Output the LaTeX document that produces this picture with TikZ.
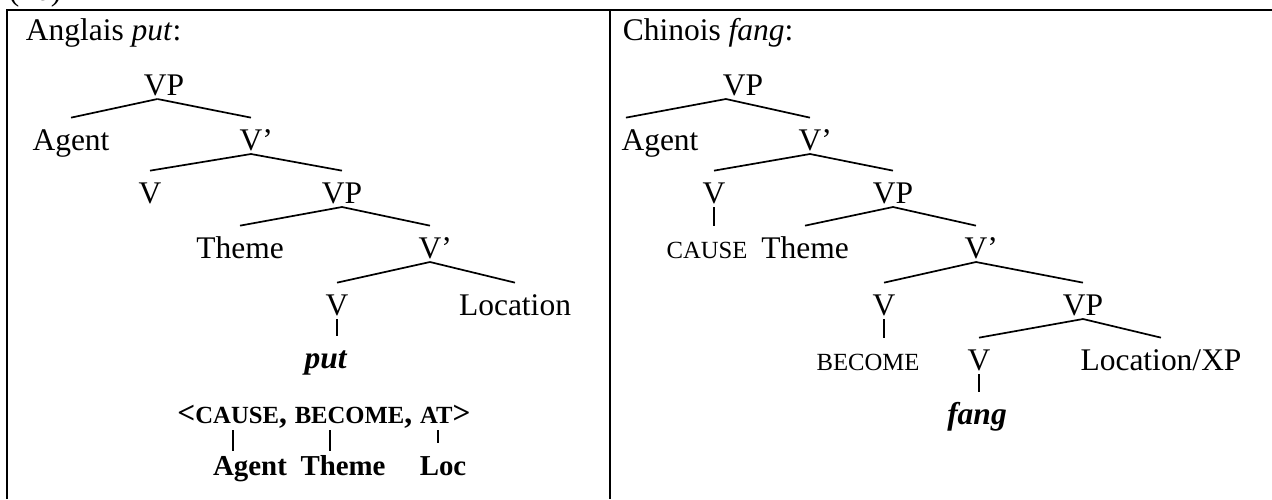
\documentclass[tikz,border=0pt]{standalone}
\usepackage{fontspec}
\setmainfont{Liberation Serif}
\newcommand{\capsm}[1]{{\fontsize{9.4pt}{11pt}\selectfont #1}}

\begin{document}
\begin{tikzpicture}
  [x=0.381pt,y=-0.381pt,line width=0.65pt,
   every node/.style={font=\fontsize{12pt}{14pt}\selectfont,inner sep=0pt},
   cat/.style={anchor=base,text height=12pt,text depth=1.2pt},
   feat/.style={anchor=base,text height=9pt,font=\fontsize{11pt}{13pt}\selectfont\bfseries}]
  \useasboundingbox (0,0) rectangle (1272,499);
  % table frame
  \draw[line width=0.9pt] (7,499) -- (7,10) -- (1272,10);
  \draw[line width=0.9pt] (610,10) -- (610,499);
  \node[anchor=base west] (num) at (8,0) {(10)};
  \node[anchor=base west] (titA) at (25,40) {Anglais \textit{put}:};
  \node[anchor=base west] (titB) at (622,40) {Chinois \textit{fang}:};

  % English tree
  \node[cat] (vpA) at (164,95) {VP};
  \node[cat] (agA) at (71,150) {Agent};
  \node[cat] (vbA) at (251,150) {V\rlap{’}};
  \node[cat] (vA) at (150,203) {V};
  \node[cat] (vpA2) at (342,203) {VP};
  \node[cat] (thA) at (240,258) {Theme};
  \node[cat] (vbA2) at (430,258) {V\rlap{’}};
  \node[cat] (vA2) at (337,315) {V};
  \node[cat] (locA) at (515,315) {Location};
  \node[cat] (putA) at (326,368) {\textbf{\textit{put}}};
  \node[anchor=base,font=\fontsize{12pt}{14pt}\selectfont\bfseries] (lex) at (324,423)
    {<\capsm{CAUSE}, \capsm{BECOME}, \capsm{AT}>};
  \node[feat] (agL) at (250,475) {Agent};
  \node[feat] (thL) at (343,475) {Theme};
  \node[feat] (locL) at (443,475) {Loc};

  % Chinese tree
  \node[cat] (vpB) at (743,95) {VP};
  \node[cat] (agB) at (660,150) {Agent};
  \node[cat] (vbB) at (810,150) {V\rlap{’}};
  \node[cat] (vB) at (714,203) {V};
  \node[cat] (vpB2) at (893,203) {VP};
  \node[cat] (causeB) at (707,258) {\capsm{CAUSE}};
  \node[cat] (thB) at (805,258) {Theme};
  \node[cat] (vbB2) at (976,258) {V\rlap{’}};
  \node[cat] (vB2) at (884,315) {V};
  \node[cat] (vpB3) at (1083,315) {VP};
  \node[cat] (becB) at (868,370) {\capsm{BECOME}};
  \node[cat] (vB3) at (979,370) {V};
  \node[cat] (locB) at (1161,370) {Location/XP};
  \node[cat] (fangB) at (977,424) {\textbf{\textit{fang}}};

  \foreach \from/\to in {vbA/vA,vbA/vpA2,vpA2/thA,vpA2/vbA2,vbA2/vA2,vbA2/locA,
                         vbB/vB,vbB/vpB2,vpB2/thB,vpB2/vbB2,vbB2/vB2,vbB2/vpB3,vpB3/vB3,vpB3/locB}
    \draw (\from.south) -- (\to.north);
  \draw ([xshift=-2.5pt]vpA.south) -- (agA.north);
  \draw ([xshift=-2.5pt]vpA.south) -- (vbA.north);
  \draw ([xshift=-6.5pt]vpB.south) -- ([xshift=2pt]agB.north west);
  \draw ([xshift=-6.5pt]vpB.south) -- (vbB.north);
  \foreach \from/\to in {vA2/putA,vB/causeB,vB2/becB,vB3/fangB}
    \draw (\from.south) -- (\from.south |- \to.north);

  % links to the argument slots
  \coordinate (tkA) at (233,430);
  \coordinate (tkB) at (330,430);
  \coordinate (tkC) at (438,430);
  \coordinate (tkCend) at (438,443);
  \draw (tkA) -- (tkA |- agL.north);
  \draw (tkB) -- (tkB |- thL.north);
  \draw (tkC) -- (tkCend);
\end{tikzpicture}
\end{document}
